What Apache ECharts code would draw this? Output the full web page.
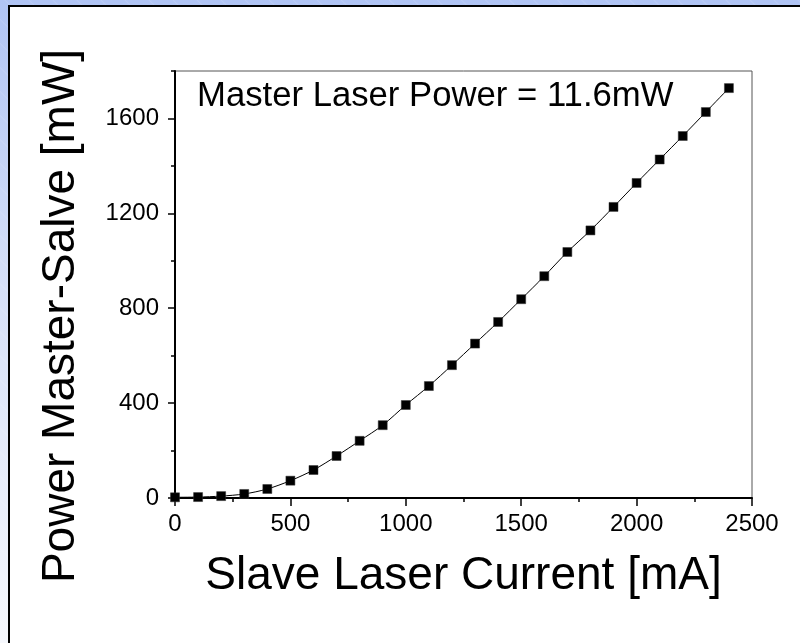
<!DOCTYPE html>
<html>
<head>
<meta charset="utf-8">
<script src="https://cdn.jsdelivr.net/npm/echarts@6/dist/echarts.min.js"></script>
<style>
  html, body { margin: 0; padding: 0; }
  #bg { position: absolute; left: 0; top: 0; width: 800px; height: 643px; overflow: hidden;
        background: linear-gradient(to bottom, #b0c4f4 0%, #d6e0f8 45%, #f6f8fd 100%); }
  #stripes { position: absolute; left: 0; top: 0; width: 800px; height: 643px;
        background: repeating-linear-gradient(45deg, rgba(255,255,255,0) 0px, rgba(255,255,255,0) 15px, rgba(255,255,255,0.12) 16px, rgba(255,255,255,0) 17px); }
  #panel { position: absolute; left: 8px; top: 4.5px; width: 820px; height: 660px;
        background: #ffffff; border: 2.5px solid #000; box-sizing: border-box; }
  #chart { position: absolute; left: 0; top: 0; width: 800px; height: 643px; }
</style>
</head>
<body>
<div id="bg"><div id="stripes"></div><div id="panel"></div></div>
<div id="chart"></div>
<script>
// Data
const currents = [0, 100, 200, 300, 400, 500, 600, 700, 800, 900, 1000, 1100, 1200,
                  1300, 1400, 1500, 1600, 1700, 1800, 1900, 2000, 2100, 2200, 2300, 2400];
const powers   = [3, 4, 8, 17, 38, 73, 118, 177, 241, 307, 392, 472, 560,
                  651, 742, 838, 935, 1037, 1128, 1227, 1328, 1427, 1526, 1627, 1728];
const xTicks = [0, 500, 1000, 1500, 2000, 2500];
const yTicks = [0, 400, 800, 1200, 1600];
const yMinorTicks = [200, 600, 1000, 1400, 1800];
const xTitle = 'Slave Laser Current [mA]';
const yTitle = 'Power Master-Salve [mW]';
const annotation = 'Master Laser Power = 11.6mW';

const FONT = '"Liberation Sans", Arial, Helvetica, sans-serif';
const chart = echarts.init(document.getElementById('chart'), null, { renderer: 'canvas' });

const points = currents.map((c, i) => [c, powers[i]]);
const plain = v => String(v);

chart.setOption({
  animation: false,
  backgroundColor: 'transparent',
  grid: {
    left: 175, top: 71, right: 48, bottom: 145,
    show: true, borderColor: '#555', borderWidth: 1, backgroundColor: 'transparent'
  },
  xAxis: {
    type: 'value', min: xTicks[0], max: xTicks[xTicks.length - 1], interval: 500,
    axisLine: { show: true, onZero: false, lineStyle: { color: '#000', width: 2 } },
    axisTick: { show: true, inside: false, length: 8, lineStyle: { color: '#000', width: 1.5 } },
    minorTick: { show: true, splitNumber: 2, length: 4, lineStyle: { color: '#000', width: 1.5 } },
    splitLine: { show: false },
    axisLabel: { color: '#000', fontSize: 24, fontFamily: FONT, margin: 14, formatter: plain }
  },
  yAxis: [{
    type: 'value', min: 0, max: 1800,
    axisLine: { show: true, onZero: false, lineStyle: { color: '#000', width: 2 } },
    axisTick: { show: true, inside: false, length: 7, lineStyle: { color: '#000', width: 1.5 }, customValues: yTicks },
    splitLine: { show: false },
    axisLabel: { color: '#000', fontSize: 24, fontFamily: FONT, margin: 16, customValues: yTicks, formatter: plain }
  }, {
    type: 'value', min: 0, max: 1800, position: 'left',
    axisLine: { show: false },
    axisTick: { show: true, inside: false, length: 4, lineStyle: { color: '#000', width: 1.5 }, customValues: yMinorTicks },
    splitLine: { show: false },
    axisLabel: { show: false }
  }],
  series: [{
    type: 'line',
    yAxisIndex: 0,
    data: points,
    smooth: 0.3,
    symbol: 'rect',
    symbolSize: 9,
    showSymbol: true,
    lineStyle: { color: '#000', width: 1 },
    itemStyle: { color: '#000', borderColor: '#333', borderWidth: 0.5 },
    z: 3
  }],
  graphic: [
    { type: 'text', left: 197, top: 79,
      style: { text: annotation, fill: '#000', font: '34.7px ' + FONT } },
    { type: 'text', x: 463.5, y: 576,
      style: { text: xTitle, fill: '#000', font: '46px ' + FONT, align: 'center', verticalAlign: 'middle' } },
    { type: 'text', x: 61, y: 316, rotation: Math.PI / 2,
      style: { text: yTitle, fill: '#000', font: '46px ' + FONT, align: 'center', verticalAlign: 'middle' } }
  ]
});
</script>
</body>
</html>
